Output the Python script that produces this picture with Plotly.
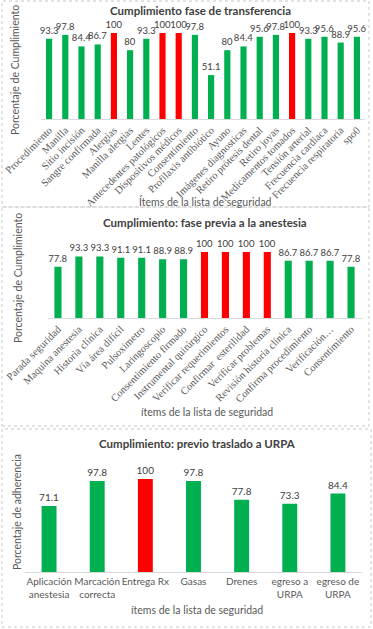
import plotly.graph_objects as go

W, H = 373, 629

# ---------- data ----------
items1 = ["Procedimiento", "Manilla", "Sitio incisión", "Sangre confirmada", "Alergias",
          "Manilla alergias", "Lentes", "Antecedentes patológicos", "Dispositivos médicos",
          "Consentimiento", "Profilaxis antibiótico", "Ayuno", "Imágenes diagnosticas",
          "Retiro prótesis dental", "Retiro joyas", "Medicamentos tomados", "Tensión arterial",
          "Frecuencia cardiaca", "Frecuencia respiratoria", "spo0"]
values1 = [93.3, 97.8, 84.4, 86.7, 100, 80, 93.3, 100, 100, 97.8, 51.1, 80, 84.4,
           95.6, 97.8, 100, 93.3, 95.6, 88.9, 95.6]

items2 = ["Parada seguridad", "Maquina anestesia", "Historia clínica", "Vía área difícil",
          "Pulsoximetro", "Laringoscopio", "Consentimiento firmado", "Instrumental quirúrgico",
          "Verificar requerimientos", "Confirmar  esterilidad", "Verificar problemas",
          "Revisión historia clínica", "Confirma procedimiento", "Verificación…", "Consentimiento"]
values2 = [77.8, 93.3, 93.3, 91.1, 91.1, 88.9, 88.9, 100, 100, 100, 100, 86.7, 86.7, 86.7, 77.8]

items3 = ["Aplicación<br>anestesia", "Marcación<br>correcta", "Entrega Rx", "Gasas", "Drenes",
          "egreso a<br>URPA", "egreso de<br>URPA"]
values3 = [71.1, 97.8, 100, 97.8, 77.8, 73.3, 84.4]

titles = ["Cumplimiento fase de transferencia",
          "Cumplimiento: fase previa a la anestesia",
          "Cumplimiento: previo traslado a URPA"]
xtitles = ["Ítems de la lista de seguridad", "ítems de la lista de seguridad",
           "ítems de la lista de seguridad"]
ytitles = ["Porcentaje de Cumplimiento", "Porcentaje de Cumplimiento", "Porcentaje de adherencia"]

GREEN = "#00B050"
RED = "#FF0000"
SANS = "Lato, 'Open Sans', sans-serif"
SERIF = "'Liberation Serif', 'DejaVu Serif', serif"


def colors(vals):
    return [RED if v >= 100 else GREEN for v in vals]


def fx(x):
    return x / W


def fy(y):
    return 1 - y / H


fig = go.Figure()

# panel geometry in pixels
panels = [
    dict(x0=41, x1=365, base=119, ppu=0.86, ymax=115, gap=0.62, items=items1, vals=values1,
         tfont=SERIF, tsize=10.5, angle=-45, lsize=9.5),
    dict(x0=47.5, x1=361.5, base=318, ppu=0.66, ymax=115, gap=0.66, items=items2, vals=values2,
         tfont=SERIF, tsize=10.5, angle=-45, lsize=9.5),
    dict(x0=25, x1=362, base=572, ppu=0.93, ymax=110, gap=0.69, items=items3, vals=values3,
         tfont=SANS, tsize=10, angle=0, lsize=10),
]

for i, p in enumerate(panels, start=1):
    sfx = "" if i == 1 else str(i)
    fig.add_trace(go.Bar(
        x=p["items"], y=p["vals"], width=1 - p["gap"],
        marker=dict(color=colors(p["vals"]), line=dict(width=0)),
        text=[f"{v:g}" for v in p["vals"]], textposition="outside", cliponaxis=False,
        constraintext="none",
        textfont=dict(family=SANS, size=p["lsize"], color="#404040"),
        xaxis="x" + sfx, yaxis="y" + sfx, showlegend=False,
    ))
    top = p["base"] - p["ymax"] * p["ppu"]
    fig.layout["xaxis" + sfx] = dict(
        domain=[fx(p["x0"]), fx(p["x1"])], anchor="y" + sfx, automargin=False,
        showline=True, linecolor="#d9d9d9", linewidth=1, ticks="", showgrid=False,
        tickangle=p["angle"], tickfont=dict(family=p["tfont"], size=p["tsize"], color="#595959"),
        fixedrange=True,
    )
    fig.layout["yaxis" + sfx] = dict(
        domain=[fy(p["base"]), fy(top)], anchor="x" + sfx, range=[0, p["ymax"]], automargin=False,
        showticklabels=False, showgrid=False, zeroline=False, showline=False, ticks="",
        fixedrange=True,
    )

# titles and axis titles
title_x = [200, 205, 197]
title_y = [10, 223, 443]
xt_x = [205, 207, 197]
xt_y = [201, 412, 610]
yt = [(15, 70), (18, 278), (17, 512)]
for k in range(3):
    fig.add_annotation(x=fx(title_x[k]), y=fy(title_y[k]),
                       xref="paper", yref="paper", text="<b>" + titles[k] + "</b>", showarrow=False,
                       font=dict(family=SANS, size=11.5, color="#404040"), xanchor="center", yanchor="middle")
    fig.add_annotation(x=fx(xt_x[k]), y=fy(xt_y[k]), xref="paper", yref="paper", text=xtitles[k],
                       showarrow=False, font=dict(family=SANS, size=10.5, color="#595959"),
                       xanchor="center", yanchor="middle")
    fig.add_annotation(x=fx(yt[k][0]), y=fy(yt[k][1]), xref="paper", yref="paper", text=ytitles[k],
                       textangle=-90, showarrow=False, font=dict(family=SANS, size=10.5, color="#595959"),
                       xanchor="center", yanchor="middle")

# dotted panel borders
borders = [(2, 1, 369, 207), (2, 207, 369, 426), (2, 429, 371, 627)]
for (x0, y0, x1, y1) in borders:
    fig.add_shape(type="rect", xref="paper", yref="paper", x0=fx(x0), x1=fx(x1), y0=fy(y1), y1=fy(y0),
                  line=dict(color="#c8c8c8", width=1, dash="dot"), fillcolor="rgba(0,0,0,0)")

fig.update_layout(width=W, height=H, margin=dict(l=0, r=0, t=0, b=0, autoexpand=False),
                  paper_bgcolor="white", plot_bgcolor="white", showlegend=False)

fig.write_html("out.html", config={"displayModeBar": False},
               post_script="document.body.style.margin='0';document.body.style.overflow='hidden';")
